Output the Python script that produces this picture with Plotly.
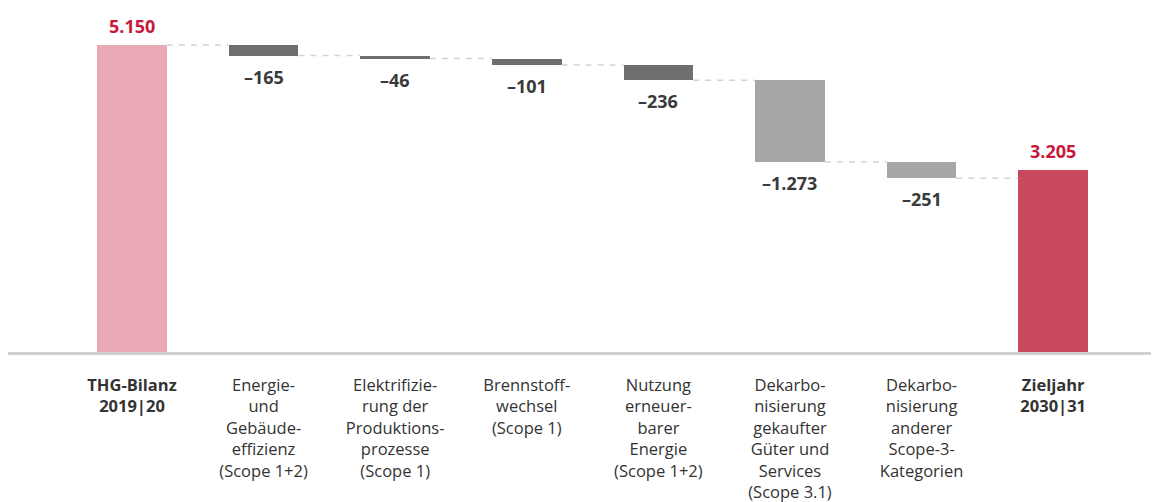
import plotly.graph_objects as go

categories = [
    "<b>THG-Bilanz</b><br><b>2019|20</b>",
    "Energie-<br>und<br>Gebäude-<br>effizienz<br>(Scope 1+2)",
    "Elektrifizie-<br>rung der<br>Produktions-<br>prozesse<br>(Scope 1)",
    "Brennstoff-<br>wechsel<br>(Scope 1)",
    "Nutzung<br>erneuer-<br>barer<br>Energie<br>(Scope 1+2)",
    "Dekarbo-<br>nisierung<br>gekaufter<br>Güter und<br>Services<br>(Scope 3.1)",
    "Dekarbo-<br>nisierung<br>anderer<br>Scope-3-<br>Kategorien",
    "<b>Zieljahr</b><br><b>2030|31</b>",
]
values = [5150, -165, -46, -101, -236, -1273, -251, 3205]
measures = ["total", "relative", "relative", "relative", "relative", "relative", "relative", "total"]
bar_colors = ["#e8a8b4", "#6f6f6f", "#6f6f6f", "#6f6f6f", "#6f6f6f", "#a7a7a7", "#a7a7a7", "#c9495e"]

BAR_W = 0.53
FONT = "Open Sans"

def fmt(v):
    s = f"{abs(v):,}".replace(",", ".")
    return ("–" + s) if v < 0 else s

x = list(range(len(values)))
bases, heights, levels = [], [], []
running = 0
for v, m in zip(values, measures):
    if m == "total":
        bases.append(0)
        heights.append(v)
        running = v
    else:
        bases.append(running + v)
        heights.append(-v)
        running = running + v
    levels.append(running)

fig = go.Figure()
fig.add_trace(go.Bar(
    x=x, y=heights, base=bases, width=BAR_W,
    marker=dict(color=bar_colors, line=dict(width=0)),
    hoverinfo="skip", showlegend=False,
))

# connectors
for i in range(len(values) - 1):
    fig.add_trace(go.Scatter(
        x=[x[i] + BAR_W / 2, x[i + 1] - BAR_W / 2],
        y=[levels[i], levels[i]],
        mode="lines",
        line=dict(color="#d3d3d3", width=1.5, dash="6px,6px"),
        hoverinfo="skip", showlegend=False,
    ))

annotations = []
for i, (v, m) in enumerate(zip(values, measures)):
    if m == "total":
        annotations.append(dict(
            x=x[i], y=v, xref="x", yref="y", text=f"<b>{fmt(v)}</b>",
            showarrow=False, yanchor="bottom", yshift=5,
            font=dict(family=FONT, size=18, color="#c8193c"),
        ))
    else:
        annotations.append(dict(
            x=x[i], y=bases[i], xref="x", yref="y", text=f"<b>{fmt(v)}</b>",
            showarrow=False, yanchor="top", yshift=-7,
            font=dict(family=FONT, size=18, color="#3a3a3a"),
        ))

# page body has an 8px margin; figure is sized to fit the remaining window
fig.update_layout(
    width=1151, height=494,
    margin=dict(l=0, r=0, t=0, b=150, autoexpand=False),
    paper_bgcolor="white", plot_bgcolor="white",
    bargap=0,
    annotations=annotations,
    font=dict(family=FONT, size=16.5, color="#333333"),
    xaxis=dict(
        range=[-0.942, 7.804],
        tickvals=x, ticktext=categories,
        showgrid=False, zeroline=False, automargin=False,
        showline=True, linecolor="#d0d0d0", linewidth=3,
        ticks="", ticklabelstandoff=16,
        tickfont=dict(family=FONT, size=16.5, color="#333333"),
        fixedrange=True,
    ),
    yaxis=dict(
        range=[373, 5726], visible=False, showgrid=False, zeroline=False,
        fixedrange=True, automargin=False,
    ),
)

fig.write_html("out.html")
